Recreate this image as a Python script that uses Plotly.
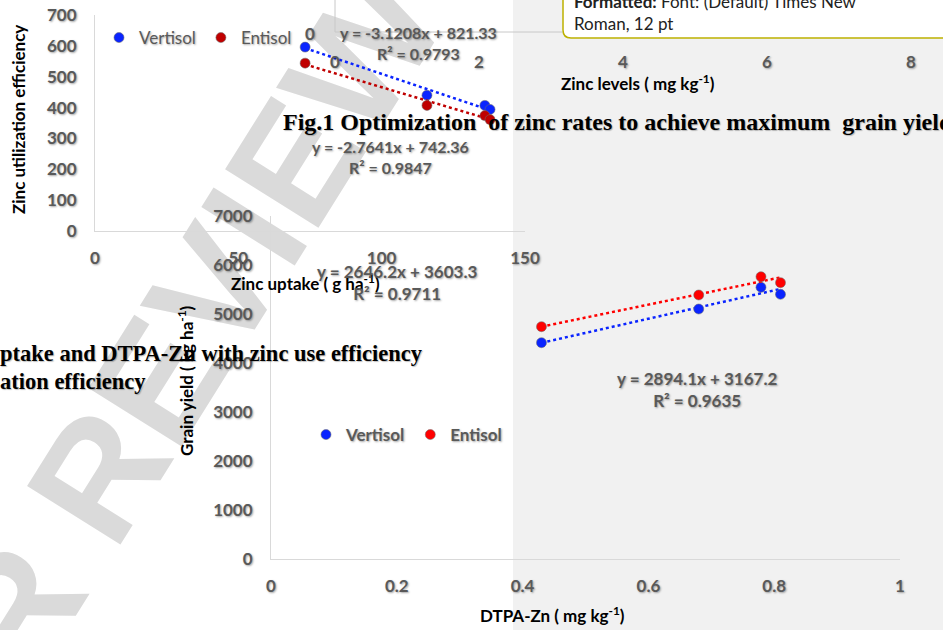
import plotly.graph_objects as go

W, H = 943, 630

# ---------------- data: chart A (zinc uptake vs zinc utilization efficiency)
uptake_vertisol = [73.3, 115.8, 136.0, 137.8]
zue_vertisol = [596, 440, 407, 394]
uptake_entisol = [73.3, 115.8, 136.0, 137.8]
zue_entisol = [544, 407, 374, 361]
trend_a_vertisol = (-3.1208, 821.33)
trend_a_entisol = (-2.7641, 742.36)
eq_a_vertisol = "y = -3.1208x + 821.33<br>R² = 0.9793"
eq_a_entisol = "y = -2.7641x + 742.36<br>R² = 0.9847"
uptake_ticks = [0, 50, 100, 150]
zue_ticks = [0, 100, 200, 300, 400, 500, 600, 700]

# ---------------- data: chart B (DTPA-Zn vs grain yield)
dtpa_vertisol = [0.430, 0.680, 0.779, 0.810]
yield_vertisol = [4414, 5102, 5545, 5402]
dtpa_entisol = [0.430, 0.680, 0.779, 0.810]
yield_entisol = [4741, 5388, 5761, 5639]
trend_b_vertisol = (2894.1, 3167.2)
trend_b_entisol = (2646.2, 3603.3)
eq_b_vertisol = "y = 2894.1x + 3167.2<br>R² = 0.9635"
eq_b_entisol = "y = 2646.2x + 3603.3<br>R² = 0.9711"
dtpa_ticks = [0, 0.2, 0.4, 0.6, 0.8, 1]
yield_ticks = [0, 1000, 2000, 3000, 4000, 5000, 6000, 7000]

# ---------------- data: partially visible Fig.1 axis
zinc_level_ticks = [0, 2, 4, 6, 8]

series_names = ["Vertisol", "Entisol"]

BLUE = "#0a24ff"
DARKRED = "#c00000"
RED = "#ff0000"
GRAY_TXT = "#595959"
FONT = "Lato, 'Open Sans', sans-serif"
SERIF = "'Liberation Serif', 'Times New Roman', serif"
SHADOW = "1px 1px 2px rgba(0,0,0,0.35)"


def px(x):
    return x / W


def py(y):
    return 1 - y / H


def trend(xs, coef):
    lo, hi = min(xs), max(xs)
    return [lo, hi], [coef[0] * lo + coef[1], coef[0] * hi + coef[1]]


fig = go.Figure()

mk_line = dict(color="rgba(110,110,110,0.55)", width=1)

# chart A traces
for xs, ys, coef, col, name in [
    (uptake_vertisol, zue_vertisol, trend_a_vertisol, BLUE, series_names[0]),
    (uptake_entisol, zue_entisol, trend_a_entisol, DARKRED, series_names[1]),
]:
    tx, ty = trend(xs, coef)
    fig.add_trace(go.Scatter(x=tx, y=ty, mode="lines", xaxis="x", yaxis="y",
                             line=dict(color=col, width=2.5, dash="dot"),
                             showlegend=False, hoverinfo="skip"))
    fig.add_trace(go.Scatter(x=xs, y=ys, mode="markers", name=name, xaxis="x", yaxis="y",
                             marker=dict(color=col, size=10, line=mk_line),
                             legend="legend"))

# chart B traces
for xs, ys, coef, col, name in [
    (dtpa_vertisol, yield_vertisol, trend_b_vertisol, BLUE, series_names[0]),
    (dtpa_entisol, yield_entisol, trend_b_entisol, RED, series_names[1]),
]:
    tx, ty = trend(xs, coef)
    fig.add_trace(go.Scatter(x=tx, y=ty, mode="lines", xaxis="x2", yaxis="y2",
                             line=dict(color=col, width=2.5, dash="dot"),
                             showlegend=False, hoverinfo="skip"))
    fig.add_trace(go.Scatter(x=xs, y=ys, mode="markers", name=name, xaxis="x2", yaxis="y2",
                             marker=dict(color=col, size=10, line=mk_line),
                             legend="legend2"))

# invisible trace to hold the Fig.1 zinc-level axis
fig.add_trace(go.Scatter(x=[zinc_level_ticks[0]], y=[0], xaxis="x3", yaxis="y",
                         mode="markers", marker=dict(opacity=0), showlegend=False,
                         hoverinfo="skip"))

tickfont = dict(family=FONT, size=17, color=GRAY_TXT, weight="bold", shadow=SHADOW)
axcommon = dict(showgrid=False, zeroline=False, showline=True, linecolor="#d9d9d9",
                linewidth=1, ticks="", tickfont=tickfont, fixedrange=True)

fig.update_layout(
    width=W, height=H, autosize=False,
    margin=dict(l=0, r=0, t=0, b=0, pad=0, autoexpand=False),
    paper_bgcolor="white", plot_bgcolor="rgba(0,0,0,0)",
    xaxis=dict(domain=[px(95), px(525)], range=[0, 150], tickvals=uptake_ticks,
               anchor="y", ticklabelstandoff=12, **axcommon),
    yaxis=dict(domain=[py(231), py(15)], range=[0, 700], tickvals=zue_ticks,
               anchor="x", ticklabelstandoff=14, **axcommon),
    xaxis2=dict(domain=[px(271), px(900)], range=[0, 1], tickvals=dtpa_ticks,
                anchor="y2", ticklabelstandoff=12, **axcommon),
    yaxis2=dict(domain=[py(559), py(216)], range=[0, 7000], tickvals=yield_ticks,
                anchor="x2", ticklabelstandoff=14, **axcommon),
    xaxis3=dict(domain=[px(335), px(911)], range=[0, 8], tickvals=zinc_level_ticks,
                anchor="free", position=py(50), showline=False, showgrid=False,
                zeroline=False, ticks="", tickfont=tickfont, fixedrange=True),
    legend=dict(orientation="h", x=px(99), y=py(38), xanchor="left", yanchor="middle",
                bgcolor="rgba(0,0,0,0)",
                font=dict(family=FONT, size=17, color=GRAY_TXT, shadow=SHADOW),
                itemwidth=30, tracegroupgap=0),
    legend2=dict(orientation="h", x=px(306), y=py(435), xanchor="left", yanchor="middle",
                 bgcolor="rgba(0,0,0,0)",
                 font=dict(family=FONT, size=17, color=GRAY_TXT, weight="bold", shadow=SHADOW),
                 itemwidth=30, tracegroupgap=0),
    showlegend=True,
)

shapes = [
    # grey page area on the right
    dict(type="rect", xref="paper", yref="paper", x0=px(513), x1=1, y0=0, y1=1,
         fillcolor="#f1f1f1", line=dict(width=0), layer="below"),
    # watermark
    dict(type="rect", xref="paper", yref="paper", x0=px(94), x1=px(96), y0=py(453), y1=py(451),
         fillcolor="rgba(0,0,0,0)", line=dict(width=0), layer="below",
         label=dict(text="PEER REVIEW", textangle=-58, textposition="middle center",
                    font=dict(family="'Liberation Sans', sans-serif", size=160,
                              color="#dadada", weight="bold"))),
    # comment connector line
    dict(type="path", xref="paper", yref="paper",
         path=f"M {px(335)},{py(-2)} L {px(335)},{py(32)} L {px(563)},{py(32)}",
         line=dict(color="#c8c8c8", width=1), layer="above"),
    # comment balloon
    dict(type="path", xref="paper", yref="paper",
         path=(f"M {px(563)},{py(-10)} L {px(563)},{py(30)} "
               f"Q {px(563)},{py(38)} {px(571)},{py(38)} "
               f"L {px(950)},{py(38)} L {px(950)},{py(-10)} Z"),
         fillcolor="white", line=dict(color="#bdb100", width=1.5), layer="above"),
]
fig.update_layout(shapes=shapes)

ann = []


def text(x, y, s, size=16, color=GRAY_TXT, family=FONT, bold=False, angle=0,
         xanchor="center", shadow=SHADOW, align="center"):
    ann.append(dict(x=px(x), y=py(y), xref="paper", yref="paper", text=s, showarrow=False,
                    xanchor=xanchor, yanchor="middle", textangle=angle, align=align,
                    font=dict(family=family, size=size, color=color,
                              weight="bold" if bold else "normal", shadow=shadow)))


# axis titles
text(18, 120, "Zinc utilization efficiency", size=17, color="black", bold=True, angle=-90,
     shadow="none")
text(305, 282, "Zinc uptake ( g ha<sup>-1</sup>)", size=17, color="black", bold=True,
     shadow="none")
text(185, 381, "Grain yield ( kg ha<sup>-1</sup>)", size=17, color="black", bold=True,
     angle=-90, shadow="none")
text(552, 614, "DTPA-Zn ( mg kg<sup>-1</sup>)", size=17, color="black", bold=True,
     shadow="none")
text(638, 83, "Zinc levels ( mg kg<sup>-1</sup>)", size=17, color="black", bold=True,
     shadow="none")
text(310, 33, "0", size=17, bold=True)

# trendline equations
text(418, 43, eq_a_vertisol, size=16, bold=True)
text(390, 157, eq_a_entisol, size=16, bold=True)
text(397, 282, eq_b_entisol, size=17, bold=True)
text(697, 389, eq_b_vertisol, size=17, bold=True)

# document text fragments
doc_shadow = "1px 1px 1px rgba(0,0,0,0.25)"
text(281, 122, "Fig.1 Optimization&nbsp;&nbsp;of zinc rates to achieve maximum&nbsp;&nbsp;grain yield",
     size=24, color="black", family=SERIF, bold=True, xanchor="left", shadow=doc_shadow)
text(-2, 353, "ptake and DTPA-Zn with zinc use efficiency", size=22.5, color="black",
     family=SERIF, bold=True, xanchor="left", shadow=doc_shadow)
text(-2, 381, "ation efficiency", size=22.5, color="black", family=SERIF, bold=True,
     xanchor="left", shadow=doc_shadow)

# comment balloon text
text(572, 12, "<b>Formatted:</b> Font: (Default) Times New<br>Roman, 12 pt", size=17,
     color="#222222", xanchor="left", shadow="none", align="left")

fig.update_layout(annotations=ann)

fig.write_html("out.html")
